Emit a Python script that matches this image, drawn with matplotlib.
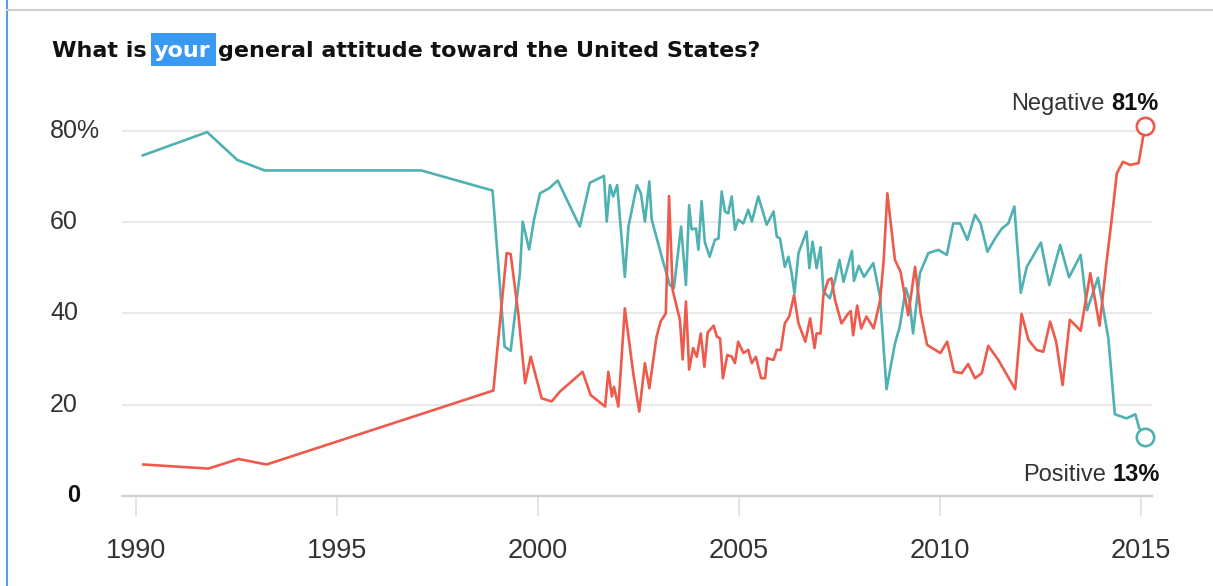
"""Pew-style line chart: general attitude toward the United States (positive vs negative)."""
import matplotlib
matplotlib.use("Agg")
import matplotlib.pyplot as plt
from matplotlib.lines import Line2D
from matplotlib.patches import Rectangle
from matplotlib.transforms import blended_transform_factory

# ---- data ----
pos_years = [1990.17, 1991.77, 1992.52, 1993.2, 1997.1, 1998.87, 1999.17, 1999.32, 1999.55, 1999.62,
             1999.78, 1999.9, 2000.05, 2000.28, 2000.49, 2001.04, 2001.29, 2001.64, 2001.71, 2001.79,
             2001.87, 2001.97, 2002.16, 2002.25, 2002.46, 2002.56, 2002.66, 2002.77, 2002.83, 2003.1,
             2003.28, 2003.38, 2003.56, 2003.68, 2003.76, 2003.82, 2003.93, 2003.99, 2004.07, 2004.15,
             2004.27, 2004.4, 2004.49, 2004.57, 2004.65, 2004.73, 2004.82, 2004.9, 2004.98, 2005.11,
             2005.23, 2005.32, 2005.48, 2005.69, 2005.86, 2005.94, 2006.02, 2006.14, 2006.23, 2006.31,
             2006.38, 2006.48, 2006.68, 2006.75, 2006.83, 2006.93, 2007.03, 2007.1, 2007.26, 2007.39,
             2007.5, 2007.6, 2007.81, 2007.86, 2007.98, 2008.11, 2008.34, 2008.51, 2008.67, 2008.88,
             2009.0, 2009.15, 2009.24, 2009.33, 2009.5, 2009.71, 2009.96, 2010.17, 2010.33, 2010.5,
             2010.68, 2010.87, 2011.01, 2011.18, 2011.37, 2011.54, 2011.7, 2011.85, 2012.01, 2012.16,
             2012.51, 2012.72, 2012.99, 2013.21, 2013.5, 2013.66, 2013.93, 2014.19, 2014.35, 2014.64,
             2014.86, 2014.95, 2015.1]
pos_vals = [74.6, 79.7, 73.6, 71.3, 71.3, 66.9, 32.7, 31.8, 48.8, 60.1,
            54.0, 60.5, 66.3, 67.4, 69.1, 59.0, 68.6, 70.1, 60.1, 68.1,
            65.6, 68.1, 48.0, 59.0, 68.1, 66.3, 60.1, 68.9, 60.5, 51.7,
            46.2, 45.5, 59.0, 46.2, 63.7, 58.4, 58.6, 53.9, 64.6, 55.6,
            52.4, 56.1, 56.4, 66.7, 62.3, 61.9, 65.6, 58.3, 60.5, 59.7,
            62.7, 60.1, 65.6, 59.4, 62.3, 56.8, 56.4, 50.2, 52.4, 48.8,
            44.4, 53.2, 57.9, 49.9, 55.7, 49.9, 54.5, 44.8, 43.3, 47.3,
            51.7, 46.9, 53.7, 47.1, 50.4, 48.0, 51.0, 43.6, 23.4, 33.4,
            37.1, 45.5, 42.9, 35.6, 48.8, 53.2, 53.9, 52.8, 59.7, 59.7,
            56.1, 61.6, 59.7, 53.5, 56.4, 58.6, 59.7, 63.4, 44.5, 50.2,
            55.5, 46.2, 55.0, 47.9, 52.8, 40.7, 47.8, 34.4, 17.9, 17.0,
            17.9, 15.0, 13.0]

neg_years = [1990.18, 1991.8, 1992.55, 1993.25, 1998.89, 1999.22, 1999.32, 1999.51, 1999.68, 1999.82,
             2000.09, 2000.34, 2000.55, 2001.11, 2001.31, 2001.67, 2001.75, 2001.84, 2001.89, 2002.0,
             2002.16, 2002.37, 2002.52, 2002.66, 2002.77, 2002.95, 2003.05, 2003.18, 2003.26, 2003.35,
             2003.53, 2003.6, 2003.68, 2003.76, 2003.86, 2003.95, 2004.05, 2004.14, 2004.22, 2004.37,
             2004.45, 2004.53, 2004.6, 2004.71, 2004.82, 2004.9, 2004.98, 2005.11, 2005.23, 2005.32,
             2005.42, 2005.55, 2005.65, 2005.7, 2005.86, 2005.94, 2006.04, 2006.14, 2006.25, 2006.37,
             2006.48, 2006.65, 2006.77, 2006.88, 2006.93, 2007.03, 2007.1, 2007.22, 2007.3, 2007.39,
             2007.55, 2007.72, 2007.78, 2007.84, 2007.94, 2008.04, 2008.17, 2008.35, 2008.51, 2008.6,
             2008.69, 2008.88, 2009.02, 2009.21, 2009.38, 2009.52, 2009.68, 2010.01, 2010.18, 2010.35,
             2010.54, 2010.7, 2010.87, 2011.04, 2011.2, 2011.45, 2011.87, 2012.03, 2012.2, 2012.4,
             2012.57, 2012.74, 2012.89, 2013.05, 2013.23, 2013.5, 2013.74, 2013.97, 2014.14, 2014.27,
             2014.4, 2014.55, 2014.73, 2014.94, 2015.1]
neg_vals = [6.9, 6.0, 8.1, 6.9, 23.1, 53.2, 53.0, 40.0, 24.7, 30.5,
            21.4, 20.7, 22.9, 27.2, 22.1, 19.6, 27.2, 21.8, 23.9, 19.6,
            41.1, 26.9, 18.5, 29.1, 23.6, 34.9, 38.2, 40.0, 65.7, 45.1,
            38.6, 29.9, 42.6, 27.7, 32.4, 30.5, 35.6, 28.3, 35.8, 37.3,
            34.9, 34.5, 25.8, 30.9, 30.5, 29.1, 33.8, 31.3, 32.0, 29.1,
            30.5, 25.8, 25.8, 30.2, 29.8, 32.0, 32.0, 37.8, 39.3, 44.0,
            37.8, 33.8, 38.9, 32.4, 35.6, 35.6, 44.0, 47.3, 47.7, 42.9,
            37.8, 40.0, 40.5, 35.2, 41.7, 36.7, 39.3, 36.7, 42.8, 51.7,
            66.3, 51.7, 49.1, 39.6, 50.2, 40.0, 33.1, 31.3, 33.8, 27.2,
            26.9, 28.9, 25.8, 26.9, 32.9, 29.8, 23.4, 39.9, 34.2, 32.0,
            31.6, 38.2, 33.8, 24.3, 38.6, 36.2, 48.8, 37.3, 51.0, 60.5,
            70.7, 73.2, 72.5, 72.9, 81.0]

x_ticks = [1990, 1995, 2000, 2005, 2010, 2015]
y_ticks = [0, 20, 40, 60, 80]
y_labels = ["0", "20", "40", "60", "80%"]

TEAL = "#4fb1b1"
RED = "#ee5a4b"
W, H = 1213, 586

plt.rcParams["font.family"] = "Liberation Sans"

fig = plt.figure(figsize=(W / 100, H / 100), dpi=100)
# axes box in pixels: x 122..1152, y (bottom) 496 .. top for ylim 85
ax = fig.add_axes([122 / W, 1 - 496 / H, (1152 - 122) / W, (496 - 107.9) / H])
ax.set_xlim(1989.652, 2015.274)
ax.set_ylim(0, 85)

ax.plot(pos_years, pos_vals, color=TEAL, lw=1.9, solid_joinstyle="round", zorder=3)
ax.plot(neg_years, neg_vals, color=RED, lw=1.9, solid_joinstyle="round", zorder=3)
ax.plot(pos_years[-1], pos_vals[-1], "o", ms=12.5, mfc="white", mec=TEAL, mew=1.9, clip_on=False, zorder=4)
ax.plot(neg_years[-1], neg_vals[-1], "o", ms=12.5, mfc="white", mec=RED, mew=1.9, clip_on=False, zorder=4)

for s in ax.spines.values():
    s.set_visible(False)
for v in y_ticks[1:]:
    ax.axhline(v, color="#e9e9e9", lw=1.5, zorder=1)
ax.axhline(0, color="#d0d0d0", lw=1.6, zorder=2, clip_on=False)

ax.set_yticks([])
ax.set_xticks(x_ticks)
ax.set_xticklabels([str(x) for x in x_ticks], fontsize=19.5, color="#333333")
ax.tick_params(axis="x", length=14.5, width=1.1, color="#dddddd", pad=16)

# y labels, left aligned at a fixed pixel column like the original
ytr = blended_transform_factory(fig.transFigure, ax.transData)
for v, lab in zip(y_ticks, y_labels):
    if v == 0:
        ax.text(67 / W, v, lab, transform=ytr, ha="left", va="center", fontsize=17,
                fontweight="bold", color="#111111")
    else:
        ax.text(50 / W, v, lab, transform=ytr, ha="left", va="center", fontsize=18, color="#333333")

fig.canvas.draw()
r = fig.canvas.get_renderer()


def chain(x_px, y_px, parts, size, family):
    """Pieces left to right from x_px; y_px is the baseline measured from the top."""
    out = []
    x = x_px
    for txt, kw, gap_before in parts:
        x += gap_before
        t = fig.text(x / W, 1 - y_px / H, txt, fontsize=size, va="baseline", ha="left",
                     family=family, **kw)
        bb = t.get_window_extent(r)
        out.append(bb)
        x = bb.x1
    return out


def chain_right(x_right, y_px, parts, size):
    """Right-aligned pieces: the last piece ends at x_right."""
    x = x_right
    gap_next = 0
    for txt, kw, gap_before in reversed(parts):
        x -= gap_next
        t = fig.text(x / W, 1 - y_px / H, txt, fontsize=size, va="baseline", ha="right", **kw)
        x = t.get_window_extent(r).x0
        gap_next = gap_before


# title with highlighted word
sz = 16
space = 0.32 * sz * 100 / 72
bbs = chain(52, 57, [("What is", dict(fontweight="bold", color="#111111"), 0),
                     ("your", dict(fontweight="bold", color="white", zorder=5), space),
                     ("general attitude toward the United States?",
                      dict(fontweight="bold", color="#111111"), space)], sz, "DejaVu Sans")
yb = bbs[1]
fig.add_artist(Rectangle(((yb.x0 - 3) / W, 1 - 66 / H), (yb.x1 - yb.x0 + space + 1) / W, 33 / H,
                         transform=fig.transFigure, facecolor="#3a9af3", edgecolor="none", zorder=1))

# end labels
gap = 0.28 * 17 * 100 / 72
chain_right(1158, 110, [("Negative", dict(color="#333333"), 0),
                        ("81%", dict(color="#111111", fontweight="bold"), gap)], 17)
chain_right(1160, 481, [("Positive", dict(color="#333333"), 0),
                        ("13%", dict(color="#111111", fontweight="bold"), gap)], 17)

# screenshot frame bits: blue left edge and grey top rule
fig.add_artist(Line2D([6.5 / W, 6.5 / W], [0, 1], transform=fig.transFigure, color="#5b9bdf", lw=1.5))
fig.add_artist(Line2D([7 / W, 1], [1 - 10 / H, 1 - 10 / H], transform=fig.transFigure,
                      color="#cfcfcf", lw=1.6))

fig.savefig("out.png", dpi=100)
